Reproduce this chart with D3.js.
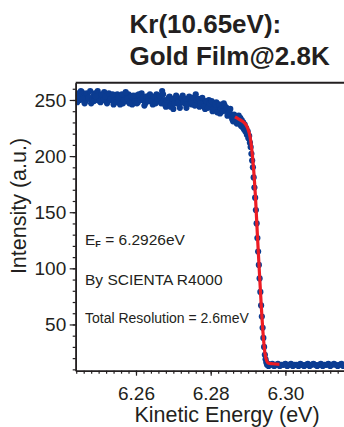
<!DOCTYPE html>
<html>
<head>
<meta charset="utf-8">
<script src="https://cdn.jsdelivr.net/npm/d3@7"></script>
<style>
body { margin: 0; background: #fff; }
text { font-family: "Liberation Sans", Arial, sans-serif; fill: #231f20; }
</style>
</head>
<body>
<div id="chart"></div>
<script>
// plateau below EF (two interleaved sweeps)
var topE = [6.2440,6.2445,6.2450,6.2455,6.2460,6.2465,6.2470,6.2475,6.2480,6.2485,
  6.2490,6.2495,6.2500,6.2505,6.2510,6.2515,6.2520,6.2525,6.2530,6.2535,
  6.2540,6.2545,6.2550,6.2555,6.2560,6.2565,6.2570,6.2575,6.2580,6.2585,
  6.2590,6.2595,6.2600,6.2605,6.2610,6.2615,6.2620,6.2625,6.2630,6.2635,
  6.2640,6.2645,6.2650,6.2655,6.2660,6.2665,6.2670,6.2675,6.2680,6.2685,
  6.2690,6.2695,6.2700,6.2705,6.2710,6.2715,6.2720,6.2725,6.2730,6.2735,
  6.2740,6.2745,6.2750,6.2755,6.2760,6.2765,6.2770,6.2775,6.2780,6.2785,
  6.2790,6.2795,6.2800,6.2805,6.2810,6.2815,6.2820,6.2825,6.2830,6.2835,
  6.2840,6.2845,6.2850,6.2855,6.2860,6.2865,6.2870];
var topI = [252,256,250,257,253,249,255,251,247,253,
  256,250,254,248,252,257,251,249,254,250,
  246,252,255,249,251,247,253,249,255,250,
  246,251,254,248,252,256,250,247,253,249,
  252,246,251,255,249,253,258,250,244,248,
  253,247,242,249,252,246,250,254,247,243,
  249,252,246,250,255,248,244,249,247,242,
  246,250,245,240,244,248,243,238,244,247,
  241,236,240,236,231,234,229];

var topE2 = [6.24425,6.24475,6.24525,6.24575,6.24625,6.24675,6.24725,6.24775,6.24825,6.24875,
  6.24925,6.24975,6.25025,6.25075,6.25125,6.25175,6.25225,6.25275,6.25325,6.25375,
  6.25425,6.25475,6.25525,6.25575,6.25625,6.25675,6.25725,6.25775,6.25825,6.25875,
  6.25925,6.25975,6.26025,6.26075,6.26125,6.26175,6.26225,6.26275,6.26325,6.26375,
  6.26425,6.26475,6.26525,6.26575,6.26625,6.26675,6.26725,6.26775,6.26825,6.26875,
  6.26925,6.26975,6.27025,6.27075,6.27125,6.27175,6.27225,6.27275,6.27325,6.27375,
  6.27425,6.27475,6.27525,6.27575,6.27625,6.27675,6.27725,6.27775,6.27825,6.27875,
  6.27925,6.27975,6.28025,6.28075,6.28125,6.28175,6.28225,6.28275,6.28325,6.28375,
  6.28425,6.28475,6.28525,6.28575,6.28625,6.28675];
var topI2 = [248,254,258,251,247,256,252,258,250,249,
  253,258,249,255,250,253,247,256,251,255,
  250,248,252,246,255,250,257,251,247,253,
  254,249,247,255,250,252,245,253,249,255,
  249,253,247,251,254,247,255,246,250,252,
  244,251,247,254,248,243,252,249,251,246,
  253,248,252,245,250,251,247,252,244,249,
  243,247,249,242,246,239,246,242,240,245,
  243,238,242,233,237,232];

// the Fermi edge
var edgeE = [6.2875,6.2877,6.2879,6.2881,6.2883,6.2885,6.2887,6.2889,6.2891,6.2893,
  6.2895,6.2897,6.2899,6.2901,6.2903,6.2905,6.2907,6.2909,6.2911,6.2913,
  6.2915,6.2917,6.2919,6.2921,6.2923,6.2925,6.2927,6.2929,6.2931,6.2933,
  6.2935,6.2937,6.2939,6.2941,6.2943,6.2945,6.2947,6.2949,6.2951,6.2953,
  6.2955];
var edgeI = [236,229,234,227,232,226,230,224,228,222,
  225,219,222,216,218,212,208,202,196,190,
  181,172,163,152,140,127,115,103,91,79,
  67,57,47,38,30,23,19,16,14,15,
  13];

// background above EF
var tailE = [6.2960,6.2965,6.2970,6.2975,6.2980,6.2985,6.2990,6.2995,6.3000,6.3005,
  6.3010,6.3015,6.3020,6.3025,6.3030,6.3035,6.3040,6.3045,6.3050,6.3055,
  6.3060,6.3065,6.3070,6.3075,6.3080,6.3085,6.3090,6.3095,6.3100,6.3105,
  6.3110,6.3115,6.3120,6.3125,6.3130,6.3135,6.3140,6.3145,6.3150,6.3155,
  6.3160,6.3165,6.3170,6.3175,6.3180];
var tailI = [14,15,13,14,15,13,14,14,15,13,
  14,15,13,14,14,13,15,14,13,14,
  15,13,14,15,14,13,14,15,13,14,
  14,15,13,14,15,14,13,14,15,13,
  14,14,15,13,14];

// fit curve (red)
var fitE = [6.2865,6.2875,6.2885,6.2895,6.2900,6.2905,6.2910,6.2915,6.2920,6.2925,
  6.2930,6.2935,6.2940,6.2945,6.2950,6.2955,6.2965,6.2984];
var fitI = [235,233,231,227.5,224,218,206,188,163,130,
  99,69,43,25,17.5,15.5,15,14.5];

var xMajor = [6.26, 6.28, 6.30];
var yMajor = [50, 100, 150, 200, 250];

var W = 344, H = 427;
var ink = "#231f20";

var svg = d3.select("#chart").append("svg")
    .attr("width", W).attr("height", H);

var x = d3.scaleLinear().domain([6.24386, 6.32]).range([75.7, 360.1]);
var y = d3.scaleLinear().domain([8.8, 265.4]).range([370.7, 82.7]);

var xMinor = d3.range(6.244, 6.3185, 0.002).map(function(d) { return +d.toFixed(3); });
var yMinor = d3.range(10, 261, 10);

// title
svg.append("text").attr("x", 129.5).attr("y", 33)
    .attr("font-size", 26).attr("font-weight", "bold").text("Kr(10.65eV):");
svg.append("text").attr("x", 129.5).attr("y", 65)
    .attr("font-size", 26).attr("font-weight", "bold").text("Gold Film@2.8K");

// data
svg.append("clipPath").attr("id", "plot")
  .append("rect").attr("x", 75.7).attr("y", 82.7).attr("width", 300).attr("height", 288);

var pts = [];
[[topE, topI], [topE2, topI2], [edgeE, edgeI], [tailE, tailI]].forEach(function(s) {
  s[0].forEach(function(e, i) { pts.push([e, s[1][i]]); });
});

var plot = svg.append("g").attr("clip-path", "url(#plot)");

plot.selectAll("circle")
    .data(pts)
    .enter()
    .append("circle")
      .attr("cx", function(d) { return x(d[0]); })
      .attr("cy", function(d) { return y(d[1]); })
      .attr("r", 3.1)
      .style("fill", "#0b3c92");

var fit = fitE.map(function(e, i) { return [e, fitI[i]]; });
plot.append("path")
    .datum(fit)
    .attr("fill", "none")
    .attr("stroke", "#ec1c24")
    .attr("stroke-width", 3.2)
    .attr("d", d3.line()
      .x(function(d) { return x(d[0]); })
      .y(function(d) { return y(d[1]); })
      .curve(d3.curveMonotoneX));

// axes
function styleAxis(g, fs) {
  g.attr("color", ink).attr("font-size", fs)
   .attr("font-family", "Liberation Sans, Arial, sans-serif");
  g.select(".domain").attr("stroke-width", 1.6);
  g.selectAll(".tick line").attr("stroke-width", 1.2);
}

var gyMin = svg.append("g").attr("transform", "translate(75.7,0)")
    .call(d3.axisLeft(y).tickValues(yMinor).tickSize(3).tickSizeOuter(0).tickFormat(""));
styleAxis(gyMin, 19);
var gy = svg.append("g").attr("transform", "translate(75.7,0)")
    .call(d3.axisLeft(y).tickValues(yMajor).tickSize(6).tickPadding(3.5).tickSizeOuter(0));
styleAxis(gy, 19);

var gxMin = svg.append("g").attr("transform", "translate(0,370.7)")
    .call(d3.axisBottom(x).tickValues(xMinor).tickSize(3).tickSizeOuter(0).tickFormat(""));
styleAxis(gxMin, 19);
var gx = svg.append("g").attr("transform", "translate(0,370.7)")
    .call(d3.axisBottom(x).tickValues(xMajor).tickSize(5).tickPadding(10.8).tickSizeOuter(0)
      .tickFormat(d3.format(".2f")));
styleAxis(gx, 19);

// top border
svg.append("line")
    .attr("x1", 75.7).attr("x2", 360)
    .attr("y1", 82.7).attr("y2", 82.7)
    .attr("stroke", ink).attr("stroke-width", 2);

// axis titles
svg.append("text")
    .attr("x", 227).attr("y", 422)
    .attr("text-anchor", "middle").attr("font-size", 21.5)
    .text("Kinetic Energy (eV)");
svg.append("text")
    .attr("transform", "translate(26,206) rotate(-90)")
    .attr("text-anchor", "middle").attr("font-size", 21.5)
    .text("Intensity (a.u.)");

// annotations
var ef = svg.append("text").attr("x", 85).attr("y", 245).attr("font-size", 15.5);
ef.append("tspan").text("E");
ef.append("tspan").attr("font-size", 9).attr("font-weight", "bold").attr("dy", 2).text("F");
ef.append("tspan").attr("dy", -2).text(" = 6.2926eV");

svg.append("text").attr("x", 85).attr("y", 284.5).attr("font-size", 15.5)
    .text("By SCIENTA R4000");
svg.append("text").attr("x", 85).attr("y", 322.5).attr("font-size", 14)
    .text("Total Resolution = 2.6meV");
</script>
</body>
</html>
